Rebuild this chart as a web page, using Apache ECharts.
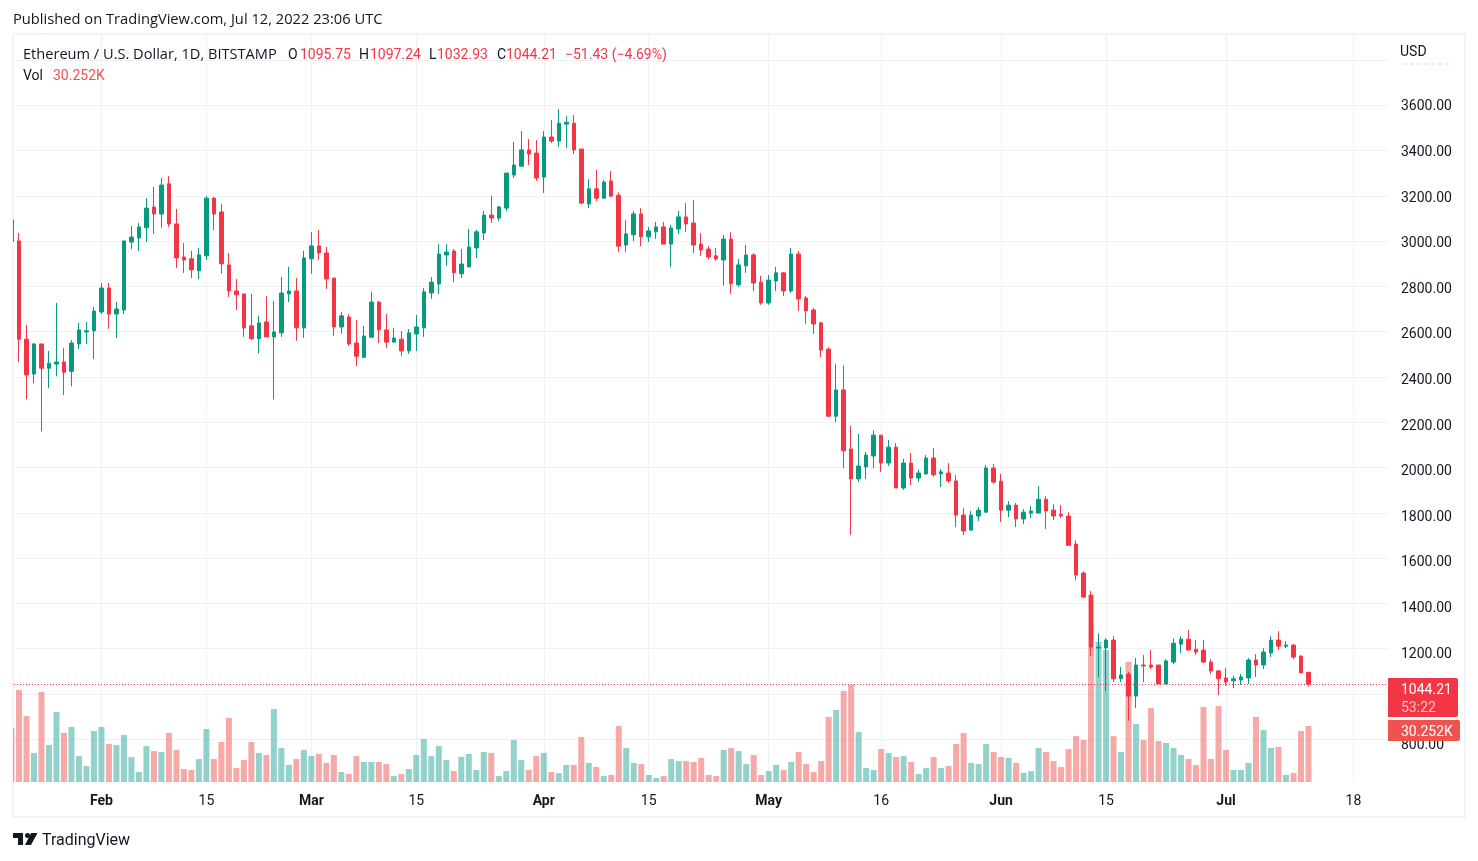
<!DOCTYPE html>
<html lang="en">
<head>
    <meta charset="UTF-8">
    <title>ETH/USD</title>
    <script src="https://cdn.jsdelivr.net/npm/echarts@6/dist/echarts.min.js"></script>
    <style>
        html, body { margin: 0; padding: 0; background: #fff; }
    </style>
</head>
<body>
    <div id="main" style="width: 1478px;height:861px;"></div>
    <script type="text/javascript">
        // daily candles, one entry per day, index 0 is 20 Jan 2022 and the last is 12 Jul 2022
        var opens = [3094,3001,2567,2413,2546,2439,2457,2466,2425,2546,2599,2604,
            2687,2793,2678,2696,2996,3014,3059,3151,3120,3253,3076,2930,2922,2869,2935,3190,3129,2895,2780,2767,2626,2569,2643,2577,2595,2767,2780,2617,
            2922,2979,2948,2837,2621,2665,2550,2487,2576,2731,2608,2554,2567,2515,2590,2617,2771,2811,2939,2956,2856,2886,2970,3036,3115,3102,3146,3292,3331,3403,3389,
            3283,3460,3442,3517,3521,3407,3164,3231,3190,3266,3203,2983,3028,3120,3019,3041,3063,2987,3054,3107,3080,2987,2965,2935,2917,3009,2807,2891,2939,2819,
            2727,2824,2860,2780,2943,2749,2696,2639,2523,2227,2343,2082,1950,2003,2051,2143,2020,2090,1910,2020,1954,1972,2042,1972,1976,1941,1790,1724,1786,1803,1998,
            1940,1812,1834,1773,1799,1799,1860,1812,1794,1786,1662,1534,1437,1203,1203,1238,1067,1088,991,1128,1128,1128,1044,1141,1220,1242,1198,1194,1141,1102,
            1071,1058,1062,1071,1150,1128,1181,1238,1211,1216,1167,1095.75];
        var highs = [3098,3036,2630,2550,2546,2515,2727,2528,2563,2639,2643,2709,
            2815,2815,2731,3001,3067,3081,3190,3240,3279,3288,3142,2992,2957,2970,3200,3195,3164,2948,2833,2767,2767,2670,2758,2735,2842,2887,2837,2957,
            3040,3049,2974,2837,2687,2678,2652,2625,2776,2735,2678,2617,2603,2612,2674,2793,2841,2987,2987,2965,2965,3054,3050,3133,3200,3155,3301,3438,3486,3451,3446,
            3486,3534,3583,3552,3556,3407,3274,3314,3270,3309,3216,3093,3133,3146,3063,3085,3085,3072,3133,3168,3181,3035,2978,2970,3027,3040,2921,2983,2948,2847,
            2851,2886,2864,2970,2956,2758,2705,2643,2532,2458,2452,2184,2148,2069,2165,2143,2121,2108,2038,2064,1990,2055,2086,1994,2020,1968,1821,1808,1825,2011,2016,
            1972,1852,1843,1816,1830,1918,1873,1838,1834,1803,1679,1542,1455,1268,1246,1255,1119,1097,1159,1172,1194,1128,1154,1246,1255,1282,1238,1238,1154,1106,
            1115,1080,1088,1159,1176,1202,1255,1277,1233,1220,1172,1097.24];
        var lows = [2987,2466,2301,2374,2160,2351,2403,2320,2359,2524,2546,2479,
            2678,2613,2572,2678,2965,2957,2996,3031,3059,3063,2882,2860,2837,2833,2917,3049,2856,2754,2696,2577,2564,2503,2577,2301,2577,2731,2560,2573,
            2856,2917,2789,2582,2591,2537,2448,2483,2572,2550,2528,2554,2492,2502,2515,2577,2745,2767,2891,2819,2837,2886,2926,3005,3080,3089,3133,3279,3331,3336,3266,
            3213,3433,3416,3411,3385,3164,3146,3177,3186,3194,2952,2952,3000,2978,2996,3010,2987,2886,3032,3041,2948,2935,2921,2913,2803,2767,2798,2860,2780,2719,
            2719,2780,2758,2771,2692,2634,2590,2488,2223,2201,1998,1703,1936,1950,1998,1981,2007,1910,1901,1923,1936,1968,1959,1914,1932,1737,1702,1720,1764,1803,1927,
            1759,1781,1737,1751,1777,1799,1729,1768,1777,1653,1503,1423,1167,1075,1013,1052,1052,881,938,1052,1110,1044,1044,1132,1181,1194,1172,1137,1088,995,
            1035,1026,1040,1044,1075,1110,1163,1194,1203,1154,1093,1032.93];
        var closes = [2998,2567,2409,2546,2439,2461,2466,2421,2550,2608,2604,2691,
            2793,2678,2700,3001,3018,3063,3146,3120,3248,3076,2926,2917,2873,2939,3190,3120,2900,2780,2763,2617,2569,2639,2577,2599,2771,2780,2617,2926,
            2979,2948,2833,2621,2670,2546,2492,2581,2731,2608,2554,2572,2515,2595,2621,2776,2819,2943,2952,2860,2899,2974,3041,3115,3102,3151,3301,3336,3403,3385,3279,
            3460,3442,3521,3525,3403,3168,3231,3190,3261,3199,2978,3032,3120,3019,3045,3063,2987,3058,3107,3076,2983,2961,2930,2921,3009,2812,2895,2939,2815,2727,
            2828,2860,2780,2943,2745,2692,2634,2519,2227,2343,2074,1950,2007,2055,2143,2020,2090,1910,2020,1954,1976,2042,1968,1981,1941,1790,1720,1790,1812,1998,1936,
            1812,1834,1773,1803,1808,1860,1808,1786,1786,1657,1525,1428,1207,1207,1238,1067,1084,991,1128,1124,1119,1044,1146,1224,1242,1194,1185,1141,1102,1067,
            1053,1067,1075,1150,1128,1185,1238,1211,1216,1163,1093,1044.21];
        // thousands of ETH
        var volumes = [29.0,49.7,35.6,15.7,48.6,20.0,37.8,26.5,29.7,14.0,8.6,27.5,
            29.7,20.5,20.0,25.4,13.5,5.4,19.4,16.7,16.2,26.5,17.3,7.0,6.5,12.4,28.6,12.4,21.6,34.6,7.6,11.9,21.6,15.7,14.6,39.4,18.4,9.2,12.4,17.3,
            14.0,15.1,10.3,14.6,5.4,4.3,14.0,10.8,10.8,10.8,9.7,3.2,4.3,7.0,14.6,23.2,14.0,19.4,11.9,5.9,13.5,15.1,6.5,16.2,15.7,3.2,5.9,22.7,11.9,6.5,14.0,
            15.7,5.4,4.9,9.2,9.2,24.3,10.3,8.1,3.2,3.8,30.2,18.4,10.3,9.7,3.8,2.2,3.2,12.4,11.3,11.3,10.8,13.0,3.8,3.2,17.3,18.4,16.7,9.7,14.6,3.8,
            5.9,9.2,6.5,10.8,16.2,9.7,5.4,11.3,35.1,38.9,49.1,52.4,27.0,7.6,6.5,17.8,15.7,13.5,14.0,10.8,4.3,7.6,13.5,7.6,8.6,20.5,26.5,10.3,9.7,20.5,16.2,
            13.5,13.0,10.3,4.9,5.9,18.4,16.2,11.3,8.1,17.8,24.8,22.7,101.0,75.6,71.3,24.8,16.2,64.8,31.3,22.7,40.0,22.1,21.1,18.4,14.6,12.4,9.2,40.5,12.4,41.0,
            17.3,6.5,6.5,10.3,35.1,28.1,18.4,18.9,3.8,4.9,27.5,30.252];

        var priceTicks = [800,1000,1200,1400,1600,1800,2000,2200,2400,2600,2800,3000,3200,3400,3600,3800];
        var priceLabels = [800,1200,1400,1600,1800,2000,2200,2400,2600,2800,3000,3200,3400,3600];
        // days counted from 20 Jan
        var dateTicks = [12,26,40,54,71,85,101,116,132,146,162,179];
        var dateLabels = ['{b|Feb}','15','{b|Mar}','15','{b|Apr}','15','{b|May}','16','{b|Jun}','15','{b|Jul}','18'];

        var UP = '#089981', DOWN = '#f23645';
        var FONT = 'Roboto', TEXT_FONT = 'Open Sans';

        var candles = [], vols = [];
        for (var i = 0; i < opens.length; i++) {
            candles.push([i, opens[i], closes[i], lows[i], highs[i]]);
            vols.push({
                value: [i, volumes[i]],
                itemStyle: { color: closes[i] >= opens[i] ? 'rgba(38,166,154,0.5)' : 'rgba(239,83,80,0.5)' }
            });
        }

        function txt(x, y, s, color, size, font) {
            return {
                type: 'text', z: 110, x: x, y: y,
                style: {
                    text: s, fill: color, fontFamily: font || FONT, fontSize: size || 14,
                    textVerticalAlign: 'middle'
                }
            };
        }

        var myChart = echarts.init(document.getElementById('main'));

        var option = {
            animation: false,
            backgroundColor: '#fff',
            grid: { left: 14, right: 90, top: 35, bottom: 79 },
            xAxis: {
                type: 'value',
                min: 0.3364,
                max: 183.6064,
                axisLine: { show: false },
                axisTick: { show: false, customValues: dateTicks },
                splitLine: { show: true, lineStyle: { color: '#f0f1f4', width: 1 } },
                axisLabel: {
                    customValues: dateTicks,
                    margin: 12,
                    color: '#131722',
                    fontFamily: FONT,
                    fontSize: 14,
                    hideOverlap: false,
                    formatter: function (v) { return dateLabels[dateTicks.indexOf(v)]; },
                    rich: { b: { fontWeight: 'bold', fontSize: 14, fontFamily: FONT, color: '#131722' } }
                }
            },
            yAxis: [
                {
                    // the candles and the grid lines
                    type: 'value', position: 'right', min: 611.3, max: 3910.5,
                    axisLine: { show: false },
                    axisTick: { show: false, customValues: priceTicks },
                    axisLabel: { show: false },
                    splitLine: { show: true, lineStyle: { color: '#f0f1f4', width: 1 } }
                },
                {
                    // volume overlay
                    type: 'value', min: 0, max: 403.4, show: false, splitLine: { show: false }
                },
                {
                    // price labels, they sit a few px lower than the grid towards the bottom
                    type: 'value', position: 'right', min: 638.5, max: 3915.8,
                    axisLine: { show: false },
                    axisTick: { show: false, customValues: priceLabels },
                    splitLine: { show: false },
                    axisLabel: {
                        customValues: priceLabels,
                        margin: 13,
                        color: '#131722',
                        fontFamily: FONT,
                        fontSize: 14,
                        formatter: function (v) { return v.toFixed(2); }
                    }
                }
            ],
            series: [
                {
                    type: 'bar', name: 'Vol', xAxisIndex: 0, yAxisIndex: 1,
                    barWidth: 6, data: vols, z: 2, clip: false
                },
                {
                    type: 'candlestick', name: 'ETHUSD', xAxisIndex: 0, yAxisIndex: 0,
                    barWidth: 4, z: 3, clip: false,
                    itemStyle: { color: UP, color0: DOWN, borderColor: UP, borderColor0: DOWN, borderWidth: 1 },
                    data: candles,
                    markLine: {
                        silent: true, symbol: 'none', animation: false,
                        label: { show: false },
                        lineStyle: { color: DOWN, type: [1, 2], width: 1 },
                        data: [{ yAxis: 1044.21 }]
                    }
                }
            ],
            graphic: [
                // frame around the chart
                { type: 'rect', z: -1, silent: true, shape: { x: 13, y: 34, width: 1452, height: 783 },
                  style: { fill: 'none', stroke: '#f0f3fa', lineWidth: 2 } },
                // the first candle is cut by the left edge of the pane
                { type: 'rect', z: 90, silent: true, shape: { x: 0, y: 35, width: 12, height: 747 }, style: { fill: '#fff' } },
                { type: 'rect', z: 90, silent: true, shape: { x: 12, y: 35, width: 1, height: 747 }, style: { fill: '#f0f3fa' } },

                txt(13, 20, 'Published on TradingView.com, Jul 12, 2022 23:06 UTC', '#131722', 14.7, TEXT_FONT),
                txt(23, 55, 'Ethereum / U.S. Dollar, 1D, BITSTAMP', '#131722', 14.6, TEXT_FONT),
                txt(288, 55, 'O', '#131722', 14),
                txt(300, 55, '1095.75', DOWN, 14),
                txt(359, 55, 'H', '#131722', 14),
                txt(370, 55, '1097.24', DOWN, 14),
                txt(429, 55, 'L', '#131722', 14),
                txt(437, 55, '1032.93', DOWN, 14),
                txt(497, 55, 'C', '#131722', 14),
                txt(506, 55, '1044.21', DOWN, 14),
                txt(565, 55, '\u221251.43 (\u22124.69%)', DOWN, 14),
                txt(23, 76, 'Vol', '#131722', 14),
                txt(53, 76, '30.252K', '#ef5350', 14),
                txt(1400, 52, 'USD', '#131722', 14),
                // what shows of the 3800 label under the USD box
                { type: 'line', z: 110, silent: true, shape: { x1: 1403, y1: 64, x2: 1450, y2: 64 },
                  style: { stroke: '#d8d9dd', lineWidth: 1, lineDash: [4, 3] } },

                // last price and volume tags on the scale
                { type: 'rect', z: 100, shape: { x: 1388, y: 678, width: 70, height: 39, r: [0, 2, 2, 0] }, style: { fill: DOWN } },
                txt(1401, 690, '1044.21', '#fff', 14),
                txt(1401, 708, '53:22', 'rgba(255,255,255,0.7)', 14),
                { type: 'rect', z: 100, shape: { x: 1388, y: 720, width: 72, height: 21, r: [0, 2, 2, 0] }, style: { fill: '#ef5350' } },
                txt(1401, 732, '30.252K', '#fff', 14),

                // TradingView logo
                { type: 'polygon', z: 110, shape: { points: [[13,833],[23,833],[23,845],[18,845],[18,838],[13,838]] }, style: { fill: '#131722' } },
                { type: 'circle', z: 110, shape: { cx: 27.5, cy: 835.5, r: 2.5 }, style: { fill: '#131722' } },
                { type: 'polygon', z: 110, shape: { points: [[31,833],[37.5,833],[31,845],[25,845]] }, style: { fill: '#131722' } },
                txt(42, 841, 'TradingView', '#131722', 16)
            ]
        };

        myChart.setOption(option);
    </script>
</body>
</html>
